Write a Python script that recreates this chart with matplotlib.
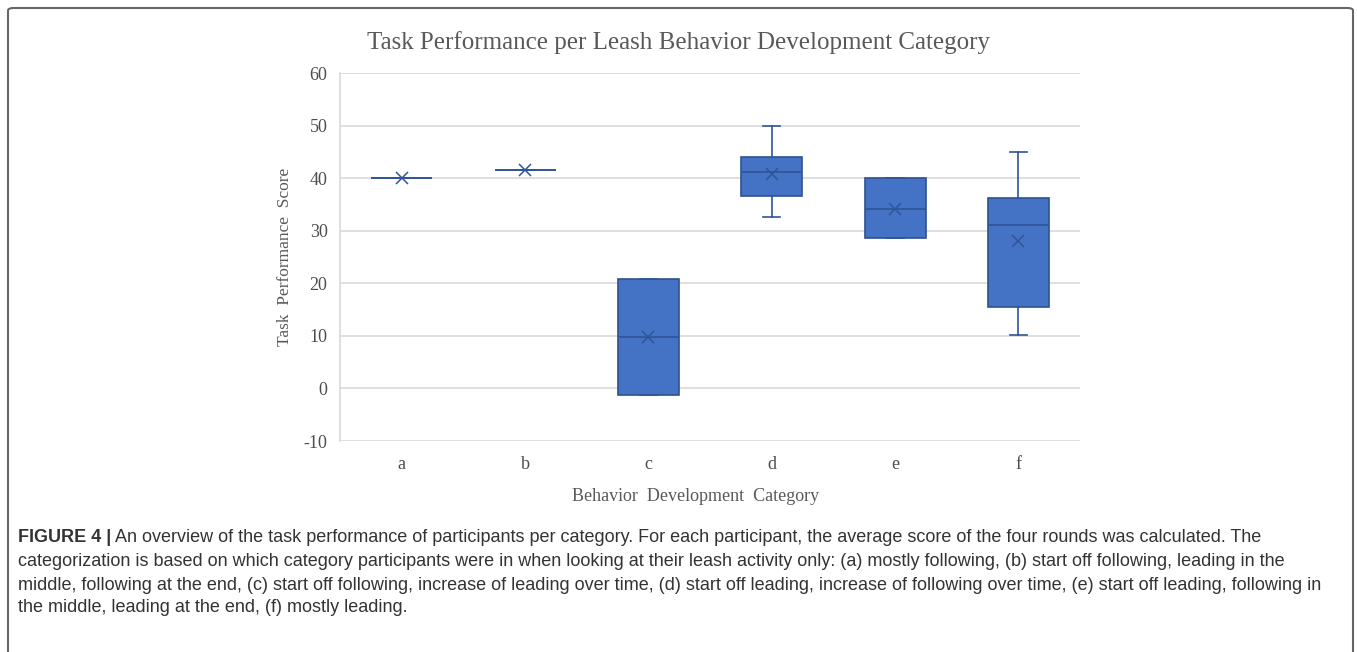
import matplotlib.pyplot as plt
from matplotlib.patches import FancyBboxPatch

# box statistics
categories = ["a", "b", "c", "d", "e", "f"]
whislo = [40.0, 41.6, -1.3, 32.7, 28.6, 10.1]
q1 = [40.0, 41.6, -1.3, 36.6, 28.6, 15.5]
med = [40.0, 41.6, 9.7, 41.2, 34.2, 31.0]
q3 = [40.0, 41.6, 20.8, 44.1, 40.1, 36.3]
whishi = [40.0, 41.6, 20.8, 49.9, 40.1, 45.0]
means = [40.0, 41.6, 9.7, 40.8, 34.2, 28.0]

yticks = [-10, 0, 10, 20, 30, 40, 50, 60]

caption_lines = [
    "An overview of the task performance of participants per category. For each participant, the average score of the four rounds was calculated. The",
    "categorization is based on which category participants were in when looking at their leash activity only: (a) mostly following, (b) start off following, leading in the",
    "middle, following at the end, (c) start off following, increase of leading over time, (d) start off leading, increase of following over time, (e) start off leading, following in",
    "the middle, leading at the end, (f) mostly leading.",
]

fill = "#4472C4"
dark = "#2F5597"
serif = ["Liberation Serif", "DejaVu Serif"]
sans = ["Liberation Sans", "DejaVu Sans"]
plt.rcParams["axes.unicode_minus"] = False

fig = plt.figure(figsize=(13.57, 6.52), dpi=100)
ax = fig.add_axes([0.2506, 0.3236, 0.5453, 0.5644])

stats = []
for i, c in enumerate(categories):
    stats.append(dict(label=c, whislo=whislo[i], q1=q1[i], med=med[i],
                      q3=q3[i], whishi=whishi[i], mean=means[i], fliers=[]))

ax.bxp(stats, positions=range(1, len(categories) + 1), widths=0.495,
       showmeans=True, patch_artist=True, showcaps=True,
       boxprops=dict(facecolor=fill, edgecolor="#2F528F", linewidth=1.2),
       medianprops=dict(color=dark, linewidth=1.2),
       whiskerprops=dict(color=dark, linewidth=1.2),
       capprops=dict(color=dark, linewidth=1.2),
       capwidths=0.14,
       meanprops=dict(marker="x", markersize=9, markeredgecolor=dark,
                      markeredgewidth=1.1))

ax.set_xlim(0.5, 6.5)
ax.set_ylim(-10, 60)
ax.set_yticks(yticks)
ax.grid(axis="y", color="#D9D9D9", linewidth=1.2)
ax.set_axisbelow(True)
for s in ["top", "right", "bottom"]:
    ax.spines[s].set_visible(False)
ax.spines["left"].set_color("#D9D9D9")
ax.spines["left"].set_linewidth(1.2)
ax.tick_params(length=0, pad=9, colors="#4D4D4D")
for lab in ax.get_xticklabels() + ax.get_yticklabels():
    lab.set_fontfamily(serif)
    lab.set_fontsize(13)
ax.tick_params(axis="x", pad=11)

fig.text(0.5, 1 - 43 / 652,
         "Task Performance per Leash Behavior Development Category",
         family=serif, fontsize=18, color="#595959", ha="center",
         va="center")
ax.set_ylabel("Task  Performance  Score", family=serif, fontsize=12.5,
              color="#595959")
ax.yaxis.set_label_coords(-0.063, 0.5)
ax.set_xlabel("Behavior  Development  Category", family=serif, fontsize=13,
              color="#595959")
ax.xaxis.set_label_coords(0.481, -0.128)

# outer frame, cut off at the bottom like the reference
frame = FancyBboxPatch((8 / 1357, -0.05), 1345 / 1357, 1 - 8 / 652 + 0.05,
                       boxstyle="round,pad=0,rounding_size=0.004",
                       transform=fig.transFigure, fill=False,
                       edgecolor="#666666", linewidth=1.5)
fig.patches.append(frame)

# caption
ys = [538, 561, 585, 608]
cap_color = "#333333"
cap_size = 13
t0 = fig.text(18 / 1357, 1 - ys[0] / 652, "FIGURE 4 |", family=sans,
              fontsize=cap_size, weight="bold", color=cap_color, va="center")
ax.annotate(" " + caption_lines[0], xy=(1, 0.5), xycoords=t0,
            va="center", ha="left", family=sans, fontsize=cap_size,
            color=cap_color, annotation_clip=False)
for line, y in zip(caption_lines[1:], ys[1:]):
    fig.text(18 / 1357, 1 - y / 652, line, family=sans, fontsize=cap_size,
             color=cap_color, va="center")

fig.savefig("out.png", dpi=100)
